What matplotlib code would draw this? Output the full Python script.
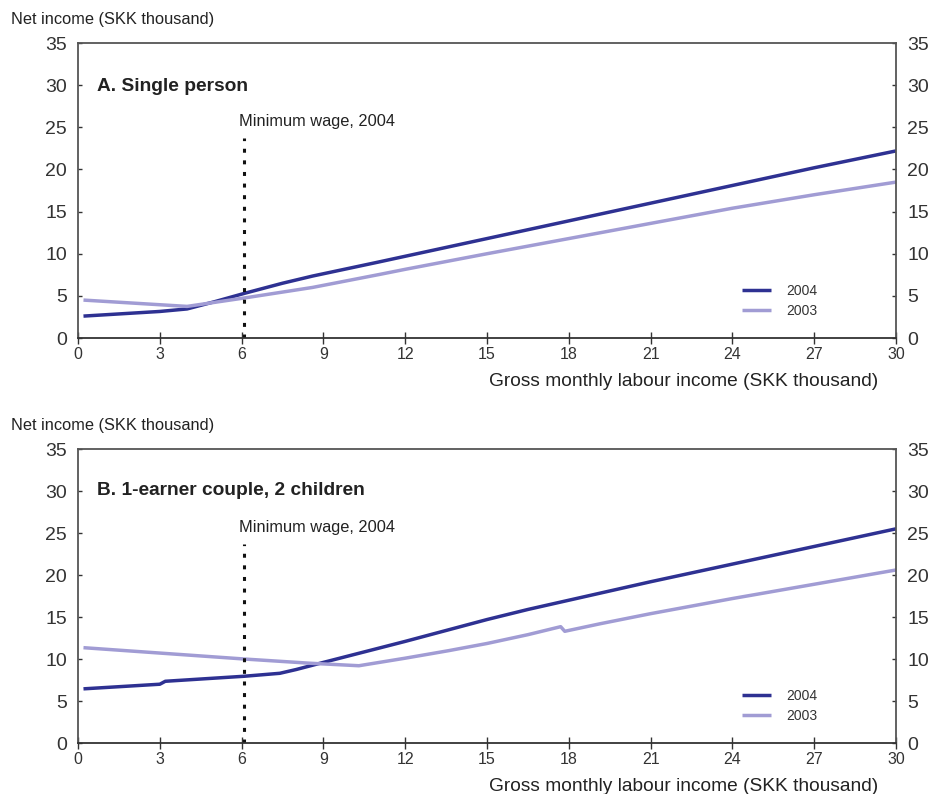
import matplotlib.pyplot as plt

plt.rcParams['font.family'] = ['Liberation Sans', 'DejaVu Sans']

# gross monthly labour income (SKK thousand) vs net income (SKK thousand)
a_x_2004 = [0.2, 3, 4, 5, 6.16, 7.5, 8.6, 11, 12, 15, 18, 21, 24, 27, 30]
a_y_2004 = [2.6, 3.15, 3.45, 4.3, 5.35, 6.5, 7.35, 9.0, 9.7, 11.8, 13.9, 16.0, 18.1, 20.2, 22.2]
a_x_2003 = [0.2, 4, 6.16, 8.6, 11.07, 12, 15, 18, 21, 24, 27, 30]
a_y_2003 = [4.5, 3.75, 4.78, 6.0, 7.55, 8.15, 10.0, 11.8, 13.6, 15.4, 17.0, 18.5]

b_x_2004 = [0.2, 3, 3.2, 6.1, 7.4, 8.0, 9, 10.5, 12, 13.5, 15, 16.5, 18, 21, 24, 27, 30]
b_y_2004 = [6.45, 7.0, 7.35, 7.95, 8.3, 8.75, 9.6, 10.85, 12.1, 13.4, 14.7, 15.9, 17.0, 19.2, 21.3, 23.4, 25.5]
b_x_2003 = [0.2, 6.1, 8.5, 10.3, 12, 13.6, 15, 16.5, 17.7, 17.85, 19.15, 21, 24, 27, 30]
b_y_2003 = [11.35, 10.0, 9.5, 9.2, 10.1, 11.0, 11.85, 12.9, 13.85, 13.3, 14.2, 15.4, 17.2, 18.9, 20.6]

min_wage = 6.08
panels = [
    ("A. Single person", a_x_2004, a_y_2004, a_x_2003, a_y_2003, 0.852),
    ("B. 1-earner couple, 2 children", b_x_2004, b_y_2004, b_x_2003, b_y_2003, 0.86),
]

c2004 = '#2e3192'
c2003 = '#a19cd4'

fig = plt.figure(figsize=(9.3, 7.94), dpi=100)
boxes = [[0.0839, 0.5743, 0.8796, 0.3715], [0.0839, 0.0642, 0.8796, 0.3703]]

for box, (title, x4, y4, x3, y3, ty) in zip(boxes, panels):
    ax = fig.add_axes(box)
    ax.plot(x4, y4, color=c2004, lw=2.5, label="2004", solid_capstyle='butt')
    ax.plot(x3, y3, color=c2003, lw=2.5, label="2003", solid_capstyle='butt')
    ax.vlines(min_wage, 0, 23.7, colors='#111111', lw=2.2, linestyles=(0, (1.3, 2.5)))
    ax.text(5.92, 24.8, "Minimum wage, 2004", fontsize=11.8, color='#222222',
            ha='left', va='bottom')
    ax.text(0.023, ty, title, transform=ax.transAxes, fontsize=13.8,
            fontweight='bold', color='#222222', va='center')

    ax.set_xlim(0, 30)
    ax.set_ylim(0, 35)
    ax.set_xticks(range(0, 31, 3))
    ax.set_yticks(range(0, 36, 5))
    ax.tick_params(axis='x', direction='inout', length=9, width=1, labelsize=11.5,
                   colors='#333333', pad=2)
    ax.tick_params(axis='y', direction='in', length=3, width=1, labelsize=14,
                   colors='#333333', left=True, right=True, labelleft=True,
                   labelright=True, pad=8)
    for s in ax.spines.values():
        s.set_color('#555555')
        s.set_linewidth(1.3)
    ax.spines['bottom'].set_color('#333333')

    ax.text(0.978, -0.148, "Gross monthly labour income (SKK thousand)",
            transform=ax.transAxes, fontsize=13.8, color='#222222',
            ha='right', va='center')
    ax.text(-0.082, 1.055, "Net income (SKK thousand)", transform=ax.transAxes,
            fontsize=11.8, color='#222222', ha='left', va='bottom')

    leg = ax.legend(loc='lower left', bbox_to_anchor=(0.796, 0.025), frameon=False,
                    fontsize=10, handlelength=2.1, labelspacing=0.45,
                    handletextpad=1.1)
    for t in leg.get_texts():
        t.set_color('#333333')

fig.savefig("out.png", dpi=100)
